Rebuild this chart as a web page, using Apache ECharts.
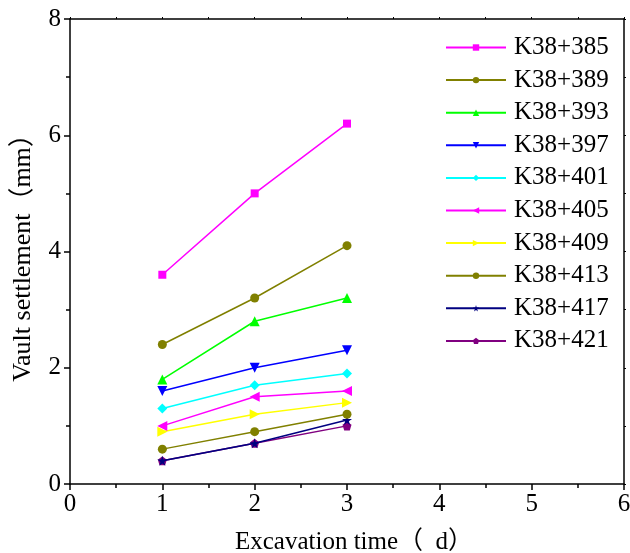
<!DOCTYPE html>
<html>
<head>
<meta charset="utf-8">
<script src="https://cdn.jsdelivr.net/npm/echarts@6/dist/echarts.min.js"></script>
<style>html,body{margin:0;padding:0;background:#fff}#c{width:630px;height:553px}</style>
</head>
<body>
<div id="c"></div>
<script>
const days = [1, 2, 3];
const seriesNames = ['K38+385','K38+389','K38+393','K38+397','K38+401','K38+405','K38+409','K38+413','K38+417','K38+421'];
const k385 = [3.6, 5.0, 6.2];
const k389 = [2.4, 3.2, 4.1];
const k393 = [1.8, 2.8, 3.2];
const k397 = [1.6, 2.0, 2.3];
const k401 = [1.3, 1.7, 1.9];
const k405 = [1.0, 1.5, 1.6];
const k409 = [0.9, 1.2, 1.4];
const k413 = [0.6, 0.9, 1.2];
const k417 = [0.4, 0.7, 1.1];
const k421 = [0.4, 0.7, 1.0];
const xTicks = [0, 1, 2, 3, 4, 5, 6];
const yTicks = [0, 2, 4, 6, 8];

const values = [k385,k389,k393,k397,k401,k405,k409,k413,k417,k421];
const colors = ['#FF00FF','#808000','#00FF00','#0000FF','#00FFFF','#FF00FF','#FFFF00','#808000','#000080','#800080'];
const star = 'path://M50,0 L61,35 L98,35 L68,57 L79,91 L50,70 L21,91 L32,57 L2,35 L39,35 Z';
const pent = 'path://M50,0 L100,38 L81,100 L19,100 L0,38 Z';
const symbols = ['rect','circle','triangle','triangle','diamond','triangle','triangle','circle',star,pent];
const rotates = [0,0,0,180,0,90,-90,0,0,0];
const sizes = [8,9,10,10,10,10,10,9,10,9];

const font = '"Liberation Serif", "Times New Roman", "Noto Sans CJK SC", serif';

const series = seriesNames.map((n, i) => ({
  name: n,
  type: 'line',
  data: days.map((d, j) => [d, values[i][j]]),
  symbol: symbols[i],
  symbolRotate: rotates[i],
  symbolSize: sizes[i],
  showAllSymbol: true,
  lineStyle: { color: colors[i], width: 1.5 },
  itemStyle: { color: colors[i] },
  z: 20 - i
}));

const chart = echarts.init(document.getElementById('c'), null, { renderer: 'canvas' });
const axisBase = {
  axisLine: { show: true, onZero: false, lineStyle: { color: '#000', width: 1.5 } },
  axisTick: { show: true, inside: false, length: 6, lineStyle: { color: '#000', width: 1.5 } },
  minorTick: { show: true, splitNumber: 2, length: 4, lineStyle: { color: '#000', width: 1.5 } },
  splitLine: { show: false }
};
const sideAxis = {
  axisLine: { show: true, onZero: false, lineStyle: { color: '#000', width: 1.5 } },
  axisTick: { show: true, inside: false, length: 2, lineStyle: { color: '#000', width: 1 } },
  minorTick: { show: true, splitNumber: 2, length: 2, lineStyle: { color: '#000', width: 1 } },
  splitLine: { show: false },
  axisLabel: { show: false }
};
chart.setOption({
  animation: false,
  backgroundColor: '#fff',
  textStyle: { fontFamily: font },
  grid: { left: 70, top: 19, right: 6, bottom: 69, containLabel: false, outerBoundsMode: 'none' },
  legend: {
    orient: 'vertical',
    left: 440,
    top: 30,
    itemWidth: 60,
    itemHeight: 8,
    itemGap: 7.6,
    data: seriesNames,
    textStyle: { fontFamily: font, fontSize: 25, color: '#000', lineHeight: 25, padding: [0,0,0,3] },
    itemStyle: { borderWidth: 0 }
  },
  xAxis: [
    Object.assign({}, axisBase, {
      type: 'value', min: xTicks[0], max: xTicks[xTicks.length-1], interval: 1, position: 'bottom',
      name: 'Excavation time（  d）', nameLocation: 'middle', nameGap: 46,
      nameTextStyle: { fontFamily: font, fontSize: 25, color: '#000', padding: [0, 0, 0, 14] },
      axisLabel: { fontFamily: font, fontSize: 25, color: '#000', margin: 8 }
    }),
    Object.assign({}, sideAxis, {
      type: 'value', min: xTicks[0], max: xTicks[xTicks.length-1], interval: 1, position: 'top'
    })
  ],
  yAxis: [
    Object.assign({}, axisBase, {
      type: 'value', min: yTicks[0], max: yTicks[yTicks.length-1], interval: 2, position: 'left',
      name: 'Vault settlement（mm）', nameLocation: 'middle', nameGap: 34,
      nameTextStyle: { fontFamily: font, fontSize: 26, color: '#000' },
      axisLabel: { fontFamily: font, fontSize: 25, color: '#000', margin: 9 }
    }),
    Object.assign({}, sideAxis, {
      type: 'value', min: yTicks[0], max: yTicks[yTicks.length-1], interval: 2, position: 'right'
    })
  ],
  series: series
});
</script>
</body>
</html>
